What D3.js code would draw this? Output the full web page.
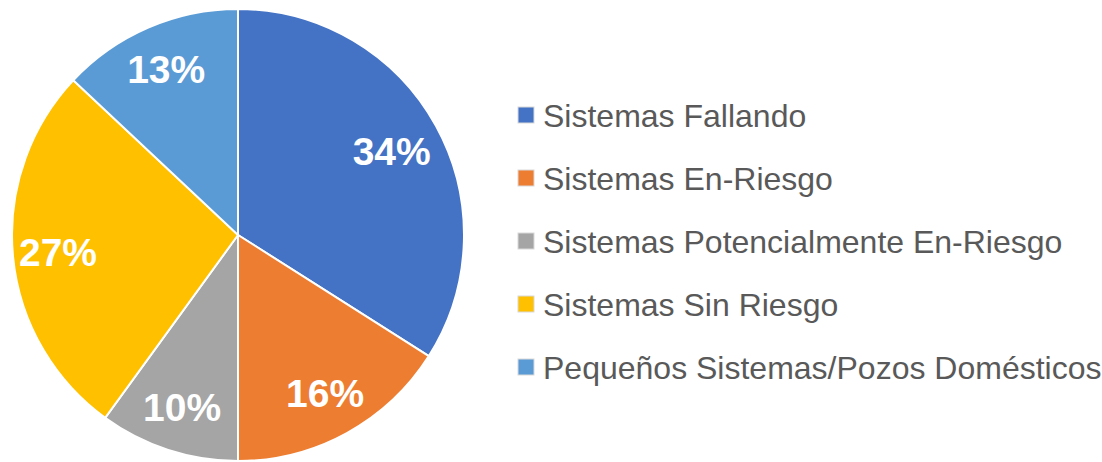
<!DOCTYPE html>
<html>
<head>
<meta charset="utf-8">
<script src="https://cdn.jsdelivr.net/npm/d3@7"></script>
<style>
  body { margin: 0; background: #fff; }
  svg { display: block; }
</style>
</head>
<body>
<div id="chart"></div>
<script>
// Data
const categories = [
  "Sistemas Fallando",
  "Sistemas En-Riesgo",
  "Sistemas Potencialmente En-Riesgo",
  "Sistemas Sin Riesgo",
  "Pequeños Sistemas/Pozos Domésticos"
];
const values = [34, 16, 10, 27, 13];
const colors = ["#4472C4", "#ED7D31", "#A5A5A5", "#FFC000", "#5B9BD5"];

const width = 1102, height = 462;
const cx = 238, cy = 235, radius = 226;

const svg = d3.select("#chart")
  .append("svg")
    .attr("width", width)
    .attr("height", height);

const data = categories.map((c, i) => ({name: c, value: values[i], color: colors[i]}));

// Pie layout, clockwise from 12 o'clock, no sorting
const pie = d3.pie()
    .value(d => d.value)
    .sort(null);

const arc = d3.arc()
    .innerRadius(0)
    .outerRadius(radius);

const labelArc = d3.arc()
    .innerRadius(radius * 0.8)
    .outerRadius(radius * 0.8);

const g = svg.append("g")
    .attr("transform", `translate(${cx},${cy})`);

const arcs = pie(data);

g.selectAll("path")
  .data(arcs)
  .join("path")
    .attr("d", arc)
    .attr("fill", d => d.data.color)
    .attr("stroke", "#fff")
    .attr("stroke-width", 2);

// Percentage labels
g.selectAll("text.pct")
  .data(arcs)
  .join("text")
    .attr("class", "pct")
    .attr("transform", d => {
      const [x, y] = labelArc.centroid(d);
      const k = d.index === 0 ? 0.97 : 1;
      return `translate(${x * k},${y * k})`;
    })
    .attr("text-anchor", "middle")
    .attr("dy", "0.36em")
    .attr("fill", "#fff")
    .style("font-family", "'Liberation Sans', Arial, sans-serif")
    .style("font-weight", "bold")
    .style("font-size", "39px")
    .text(d => d.data.value + "%");

// Legend
const legend = svg.append("g")
    .attr("transform", "translate(518,115)");

const rowStep = 63;

const item = legend.selectAll("g")
  .data(data)
  .join("g")
    .attr("transform", (d, i) => `translate(0,${i * rowStep})`);

item.append("rect")
    .attr("x", 0)
    .attr("y", -8)
    .attr("width", 16)
    .attr("height", 16)
    .attr("fill", d => d.color)
    .attr("stroke", "#d9d9d9")
    .attr("stroke-width", 1);

item.append("text")
    .attr("x", 25)
    .attr("dy", "0.36em")
    .attr("fill", "#595959")
    .style("font-family", "'Liberation Sans', Arial, sans-serif")
    .style("font-size", "32px")
    .text(d => d.name);
</script>
</body>
</html>
